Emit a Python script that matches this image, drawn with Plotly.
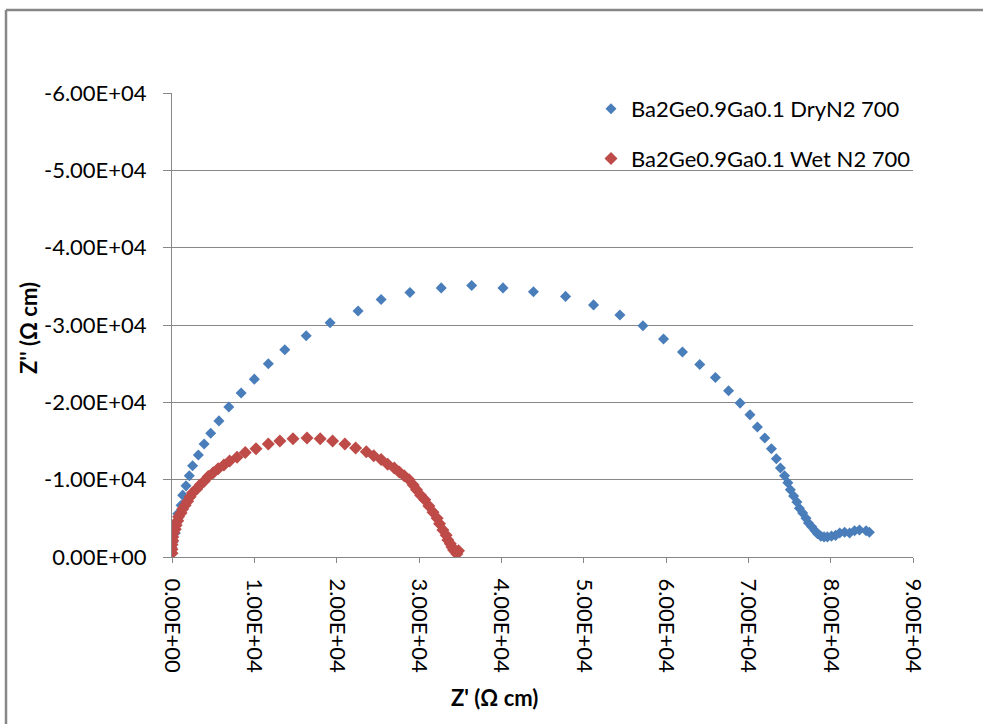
import plotly.graph_objects as go

# Impedance spectra, Z' and Z'' in ohm*cm (Z'' negative, axis reversed)
dry_name = "Ba2Ge0.9Ga0.1 DryN2 700"
dry_zre = [0.00, 0.01, 0.04, 0.05, 0.07, 0.11, 0.13, 0.17, 0.21, 0.25, 0.32, 0.39,
           0.47, 0.57, 0.69, 0.84, 1.00, 1.17, 1.37, 1.63, 1.92, 2.26, 2.54, 2.89,
           3.27, 3.64, 4.02, 4.39, 4.78, 5.12, 5.44, 5.72, 5.97, 6.20, 6.41, 6.60,
           6.76, 6.90, 7.02, 7.11, 7.20, 7.28, 7.34, 7.39, 7.44, 7.48, 7.51, 7.55,
           7.59, 7.62, 7.66, 7.70, 7.73, 7.77, 7.81, 7.84, 7.88, 7.92, 7.96, 8.01,
           8.06, 8.11, 8.17, 8.23, 8.29, 8.35, 8.43, 8.47]
dry_zim = [-0.12, -0.19, -0.31, -0.43, -0.56, -0.67, -0.80, -0.92, -1.05, -1.18, -1.32, -1.46,
           -1.60, -1.76, -1.94, -2.12, -2.30, -2.50, -2.68, -2.86, -3.03, -3.18, -3.33, -3.42,
           -3.48, -3.51, -3.48, -3.43, -3.37, -3.26, -3.13, -2.99, -2.82, -2.65, -2.49, -2.32,
           -2.15, -1.99, -1.84, -1.68, -1.54, -1.40, -1.27, -1.15, -1.05, -0.96, -0.87, -0.79,
           -0.71, -0.63, -0.57, -0.50, -0.44, -0.39, -0.34, -0.30, -0.27, -0.26, -0.26, -0.27,
           -0.28, -0.31, -0.32, -0.31, -0.34, -0.35, -0.34, -0.32]

wet_name = "Ba2Ge0.9Ga0.1 Wet N2 700"
wet_zre = [0.00, 0.00, 0.00, 0.01, 0.01, 0.02, 0.04, 0.05, 0.07, 0.08, 0.11, 0.13,
           0.16, 0.19, 0.22, 0.25, 0.30, 0.34, 0.39, 0.44, 0.50, 0.56, 0.63, 0.70,
           0.79, 0.89, 1.02, 1.17, 1.31, 1.47, 1.64, 1.80, 1.95, 2.10, 2.23, 2.36,
           2.45, 2.54, 2.62, 2.70, 2.76, 2.82, 2.88, 2.93, 2.97, 3.02, 3.07, 3.12,
           3.17, 3.22, 3.25, 3.29, 3.33, 3.35, 3.38, 3.40, 3.42, 3.45, 3.46, 3.48]
wet_zim = [-0.05, -0.10, -0.16, -0.21, -0.26, -0.31, -0.36, -0.41, -0.47, -0.52, -0.57, -0.62,
           -0.67, -0.72, -0.78, -0.83, -0.88, -0.93, -0.98, -1.04, -1.09, -1.14, -1.19, -1.24,
           -1.29, -1.35, -1.40, -1.46, -1.50, -1.53, -1.54, -1.53, -1.50, -1.46, -1.41, -1.36,
           -1.31, -1.26, -1.20, -1.15, -1.10, -1.05, -1.00, -0.93, -0.87, -0.80, -0.74, -0.66,
           -0.58, -0.50, -0.43, -0.35, -0.28, -0.22, -0.17, -0.13, -0.09, -0.06, -0.04, -0.08]

x_tickvals = [0, 10000, 20000, 30000, 40000, 50000, 60000, 70000, 80000, 90000]
x_ticktext = ["0.00E+00", "1.00E+04", "2.00E+04", "3.00E+04", "4.00E+04",
              "5.00E+04", "6.00E+04", "7.00E+04", "8.00E+04", "9.00E+04"]
y_tickvals = [0, -10000, -20000, -30000, -40000, -50000, -60000]
y_ticktext = ["0.00E+00", "-1.00E+04", "-2.00E+04", "-3.00E+04",
              "-4.00E+04", "-5.00E+04", "-6.00E+04"]

SCALE = 1e4
FONT = "Lato, 'Open Sans', sans-serif"
GRAY = "#878787"

fig = go.Figure()
fig.add_trace(go.Scatter(
    x=[v * SCALE for v in dry_zre], y=[v * SCALE for v in dry_zim],
    mode="markers", name=dry_name, legendgroup="dry",
    marker=dict(symbol="diamond", size=8.5, color="#4a7ebb", line=dict(width=0)),
))
fig.add_trace(go.Scatter(
    x=[v * SCALE for v in wet_zre], y=[v * SCALE for v in wet_zim],
    mode="markers", name=wet_name, legendgroup="wet",
    marker=dict(symbol="diamond", size=10, color="#be4b48", line=dict(width=0)),
))

L, R, T, B = 172, 70, 93, 167
W, H = 983, 724
pw, ph = W - L - R, H - T - B


def px_x(px):
    return (px - L) / pw


def px_y(py):
    return (H - B - py) / ph


fig.update_layout(
    width=W, height=H,
    margin=dict(l=L, r=R, t=T, b=B),
    paper_bgcolor="white", plot_bgcolor="white",
    font=dict(family=FONT, size=22, color="#000000"),
    showlegend=True,
    legend=dict(
        x=px_x(591), y=px_y(88), xanchor="left", yanchor="top",
        bgcolor="rgba(0,0,0,0)", borderwidth=0,
        tracegroupgap=18, itemwidth=30, traceorder="grouped",
        font=dict(family=FONT, size=22, color="#000000"),
    ),
    xaxis=dict(
        range=[0, 90000], tickvals=x_tickvals, ticktext=x_ticktext,
        tickangle=90, ticks="outside", ticklen=5, tickcolor=GRAY,
        showline=True, linecolor=GRAY, linewidth=1,
        showgrid=False, zeroline=False, ticklabelstandoff=11,
    ),
    yaxis=dict(
        range=[0, -60000], tickvals=y_tickvals, ticktext=y_ticktext,
        ticks="outside", ticklen=8, tickcolor=GRAY,
        showline=True, linecolor=GRAY, linewidth=1,
        showgrid=True, gridcolor=GRAY, gridwidth=1,
        zeroline=False, ticklabelstandoff=12,
    ),
    annotations=[
        dict(text="<b>Z' (Ω cm)</b>", xref="paper", yref="paper",
             x=px_x(494), y=px_y(697), showarrow=False,
             xanchor="center", yanchor="middle",
             font=dict(family=FONT, size=22, color="#000000")),
        dict(text="<b>Z'' (Ω cm)</b>", xref="paper", yref="paper",
             x=px_x(28), y=px_y(328), showarrow=False, textangle=-90,
             xanchor="center", yanchor="middle",
             font=dict(family=FONT, size=22, color="#000000")),
    ],
    shapes=[
        # chart-area frame (left and top edges)
        dict(type="line", xref="paper", yref="paper",
             x0=px_x(6), x1=px_x(6), y0=px_y(10), y1=px_y(740),
             line=dict(color=GRAY, width=2.5)),
        dict(type="line", xref="paper", yref="paper",
             x0=px_x(6), x1=px_x(1000), y0=px_y(10), y1=px_y(10),
             line=dict(color=GRAY, width=2.5)),
    ],
)

fig.write_html("out.html")
